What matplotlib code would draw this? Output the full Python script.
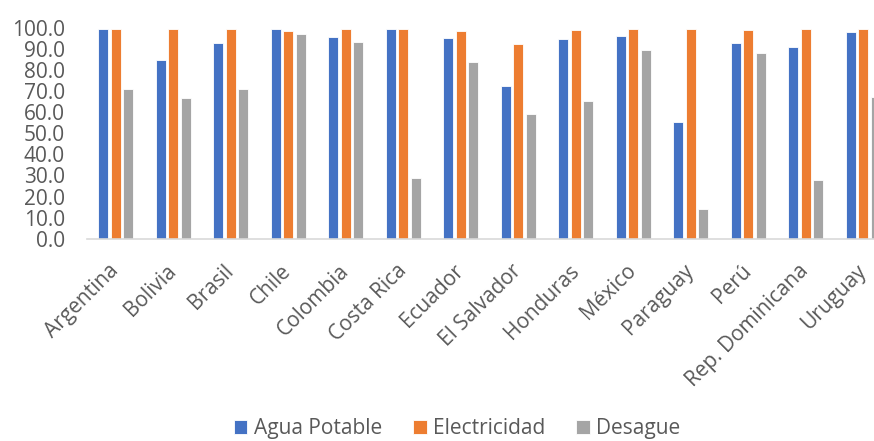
import numpy as np
import matplotlib.pyplot as plt

plt.rcParams['font.family'] = ['Open Sans', 'DejaVu Sans']

paises = ['Argentina', 'Bolivia', 'Brasil', 'Chile', 'Colombia', 'Costa Rica',
          'Ecuador', 'El Salvador', 'Honduras', 'México', 'Paraguay', 'Perú',
          'Rep. Dominicana', 'Uruguay']
agua = [99.6, 85.0, 92.8, 99.5, 95.6, 99.8, 95.3, 72.5, 94.8, 96.3, 55.3, 92.9, 91.3, 98.3]
electricidad = [99.4, 99.4, 99.8, 98.9, 99.8, 99.8, 98.9, 92.4, 99.2, 99.5, 99.8, 99.2, 99.5, 99.8]
desague = [71.0, 67.0, 71.0, 97.1, 93.6, 28.8, 84.0, 59.1, 65.5, 89.8, 14.2, 88.0, 27.7, 67.4]

azul = '#4472c4'
naranja = '#ed7d31'
gris = '#a5a5a5'
texto = '#595959'

fig = plt.figure(figsize=(8.74, 4.41), dpi=100)
ax = fig.add_axes([0.0995, 0.459, 0.921, 0.477])

x = np.arange(len(paises))
w = 0.175
d = 0.217
ax.bar(x - d, agua, w, color=azul, label='Agua Potable', edgecolor='white', linewidth=0.6)
ax.bar(x, electricidad, w, color=naranja, label='Electricidad', edgecolor='white', linewidth=0.6)
ax.bar(x + d, desague, w, color=gris, label='Desague', edgecolor='white', linewidth=0.6)

ax.set_xlim(-0.5, len(paises) - 0.5)
ax.set_ylim(0, 100)
ax.set_yticks(np.arange(0, 101, 10))
ax.set_yticklabels(['%.1f' % v for v in np.arange(0, 101, 10)])
ax.set_xticks(x)
ax.set_xticklabels(paises, rotation=45, ha='right', va='center', rotation_mode='anchor')

for s in ['top', 'right', 'left']:
    ax.spines[s].set_visible(False)
ax.spines['bottom'].set_color('#d9d9d9')
ax.spines['bottom'].set_linewidth(1.2)
ax.tick_params(axis='both', length=0, labelsize=15, colors=texto)
ax.tick_params(axis='y', pad=16)
ax.tick_params(axis='x', pad=21)

fig.legend(loc='lower center', bbox_to_anchor=(0.523, -0.038), ncol=3, frameon=False,
           fontsize=15, labelcolor=texto, handlelength=0.65, handleheight=0.65,
           handletextpad=0.3, columnspacing=1.5)

plt.savefig('out.png', dpi=100)
